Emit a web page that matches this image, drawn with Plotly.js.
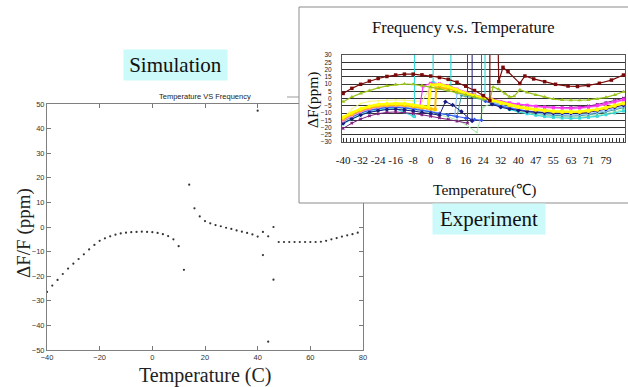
<!DOCTYPE html>
<html><head><meta charset="utf-8">
<script src="https://cdn.plot.ly/plotly-3.0.1.min.js"></script>
<style>html,body{margin:0;padding:0;background:#fff;}#chart{width:628px;height:387px;}</style>
</head><body><div id="chart"></div>
<script>
const W = 628, H = 387;

// ---------- Simulation (left) ----------
const simTemp = [-40,-38,-36,-34,-32,-30,-28,-26,-24,-22,-20,-18,-16,-14,-12,-10,-8,-6,-4,-2,0,2,4,6,8,10,12,14,16,18,20,22,24,26,28,30,32,34,36,38,40,42,44,46,48,50,52,54,56,58,60,62,64,66,68,70,72,74,76,78];
const simDev  = [-26.4,-23.8,-21.5,-19.1,-16.9,-14.9,-13.0,-11.1,-9.1,-7.3,-5.6,-4.6,-3.8,-3.1,-2.6,-2.3,-2.1,-2.0,-1.9,-2.0,-2.1,-2.4,-2.9,-3.7,-5.0,-7.8,-17.4,17.2,7.6,4.3,2.4,1.5,0.8,0.3,-0.3,-0.8,-1.4,-1.9,-2.4,-3.0,-3.9,-2.0,-3.8,0.0,-6.1,-6.1,-6.1,-6.1,-6.1,-6.1,-6.1,-6.1,-6.0,-5.6,-5.0,-4.5,-3.9,-3.4,-2.9,-2.3];
const simOutTemp = [40,42,44,46];
const simOutDev  = [47.3,-11.4,-46.6,-21.4];
const simXTicks = [-40,-20,0,20,40,60,80];
const simYTicks = [-50,-40,-30,-20,-10,0,10,20,30,40,50];

// ---------- Experiment (inset) ----------
const expTickVals = [-40,-32,-24,-16,-8,0,8,16,24,32,40,48,56,64,72,80];
const expTickText = ['-40','-32','-24','-16','-8','0','8','16','24','32','40','47','55','63','71','79'];

const maroonX = [-40,-36,-32,-28,-24,-20,-16,-12,-8,-4,0,4,8,12,16,20,24,27,27.05,31,31.05,33,35.3,40.7,43,47,52,57,62.7,67,72,77,82.5,88];
const maroonY = [3.5,7,9.8,12,13.8,15.2,16.2,16.8,16.8,16.3,15.5,14.5,13.2,11.2,8.5,5.5,2,-1.5,400,400,11.6,21.5,18.5,10.4,15.5,13.5,11.6,9.8,8.6,8.3,9,10.5,12.7,16.2];

const oliveX = [-40,-36,-32,-28,-24,-20,-16,-12,-8,-4,0,4,8,12,16,20,24,27,28.5,31,34,36,38,40.7,44,48,52,56,60,64,68,72,76,80,84,88];
const oliveY = [-2.2,1,3.5,5.6,7.3,8.7,9.6,10,9.8,9,7.8,6.7,5.5,4.2,2.6,1,-0.5,-1,8,6.3,3.5,1.2,1.5,6,4.2,2.5,1,-0.4,-1,-1.2,-1.2,-1,-0.3,0.8,2.5,4.7];

const magX = [-40,-36,-32,-28,-24,-20,-16,-12,-8,-5,-3.5,0,4,8,12,16,20,24,28,32,36,40,44,48,52,56,60,64,68,72,76,80,84,88];
const magY = [-14.5,-11,-8.5,-6.6,-5.3,-4.6,-4.3,-4.5,-5.2,-5.8,8.5,10.5,10.3,9,6.5,4.3,2.6,1,-0.5,-2,-3,-3.8,-4.6,-5.3,-5.8,-6.2,-6.5,-6.7,-6.5,-5.9,-4.9,-3.6,-2.2,-0.8];

const pinkX = [-40,-36,-32,-28,-24,-20,-16,-12,-8,-4,-1.5,-0.5,4,8,12,16,20,24,28,32,36,40,44,48,52,56,60,64,68,72,76,80,84,88];
const pinkY = [-15.5,-12,-9.3,-7.3,-6,-5.2,-5,-5.2,-5.8,-6.6,-7,9.8,10,8.7,6.2,4,2.3,0.7,-1,-2.5,-3.6,-4.4,-5.2,-5.8,-6.3,-6.7,-7,-7.1,-6.9,-6.3,-5.4,-4.2,-2.8,-1.3];

const yelX = [-40,-36,-32,-28,-24,-20,-16,-12,-8,-4,-1,0,4,8,12,16,20,24,28,32,36,40,44,48,52,56,60,64,68,72,76,80,84,88];
const yelY = [-13,-9.8,-7.2,-5.3,-4.2,-3.6,-3.4,-3.7,-4.4,-5.3,-5.9,9.3,9.8,8.3,6,3.7,2,0.5,-1.3,-3,-4.5,-5.7,-6.7,-7.6,-8.3,-8.8,-9.1,-9.2,-9,-8.4,-7.5,-6.3,-4.9,-3.3];

const goldX = [-40,-36,-32,-28,-24,-20,-16,-12,-8,-4,0,2,2.5,4,8,12,16,20,24,28,32,36,40,44,48,52,56,60,64,68,72,76,80,84,88];
const goldY = [-14,-10.8,-8.2,-6.3,-5.1,-4.5,-4.3,-4.6,-5.4,-6.3,-7.2,-7.6,7.2,7.5,6.8,5,3.1,1.6,0.1,-1.5,-3.2,-4.8,-6,-7,-7.8,-8.5,-9,-9.3,-9.5,-9.3,-8.7,-7.8,-6.6,-5.1,-3.5];

const paleX = [-40,-36,-32,-28,-24,-20,-16,-12,-8,-4,0,4,8,12,16,20,24,28];
const paleY = [-13.5,-7,-3.5,-2,-1.5,-1.2,-1,-1.2,-1.5,-2,8,8.5,7.5,5.5,3.5,2,0.5,-1];

const lbX = [-40,-36,-32,-28,-24,-20,-16,-12,-8,-4,0,4,8,11,12,16,20,24,28,32,36,40,44,48,52,56,60,64,68,72,76,80,84,88];
const lbY = [-16,-12.8,-10.2,-8.3,-7,-6.3,-6.1,-6.4,-7.1,-8,-9,-10,-11.2,-12,3.5,2.5,1.2,-0.2,-2.5,-4.6,-6.3,-7.7,-8.8,-9.7,-10.4,-10.9,-11.2,-11.3,-11.1,-10.5,-9.6,-8.4,-7,-5.5];

const blueX = [-40,-36,-32,-28,-24,-20,-16,-12,-8,-4,0,4,8,12,16,20,23.2,23.25,24,25,28,32,36,40,44,48,52,56,60,64,68,72,76,80,84,88];
const blueY = [-15.5,-12.5,-10,-8.1,-6.9,-6.2,-6,-6.4,-7.2,-8.2,-9.3,-10.4,-11.5,-12.6,-13.6,-14.5,-15,400,null,-2,-3.5,-5.2,-6.6,-7.8,-8.6,-9.2,-9.6,-9.9,-10,-10,-9.7,-9.1,-8.2,-7,-5.6,-4];

const navX = [-40,-36,-32,-28,-24,-20,-16,-12,-8,-4,0,4,6.7,10,14,18.9,18.95,20,28,32,36,40,44,48,52,56,60,64,68,72,76,80,84,88];
const navY = [-17,-14,-11.4,-9.5,-8.3,-7.6,-7.4,-7.8,-8.6,-9.6,-10.6,-11.5,-2.2,-4.5,-9,-15.5,400,null,-4,-6,-7.3,-8.3,-9,-9.5,-9.9,-10.1,-10.2,-10.2,-10,-9.4,-8.5,-7.4,-6,-4.6];

const purX = [-40,-36,-32,-28,-24,-20,-16,-12,-8,-4,0,4,8,12,16.8,16.85,18,27.5,28,32,36,40,44,48,52,56,60,64,68,72,76,80,84,88];
const purY = [-20.6,-17,-14.2,-12,-10.5,-9.6,-9.3,-9.6,-10.3,-11.2,-12.2,-13.3,-14.4,-15.6,-17,400,null,-0.5,-1,-2.4,-3.4,-4.2,-4.9,-5.5,-5.9,-6.2,-6.3,-6.2,-5.9,-5.2,-4.1,-2.9,-1.4,0.2];

const cyanX = [-40,-36,-32,-28,-24,-20,-16,-12,-8,-7.4,-7.35,0,1.05,1.1,4,8,9.2,9.25,20,24.75,24.8,28,32,36,40,44,48,52,56,60,64,68,72,76,80,84,88];
const cyanY = [-17.5,-14,-11.3,-9.3,-8,-7.2,-7,-9.5,-12,-12.5,400,null,400,11,10,8.3,8,400,null,400,-1.5,-3.8,-5.7,-7.6,-9.2,-10.5,-11.6,-12.5,-13.1,-13.5,-13.7,-13.6,-13.1,-12.3,-11.2,-10,-8.6];

const lgX = [-40,-36,-32,-28,-24,-20,-16,-12,-8,-4,0,4,8,12,16,21,24,28,32,36,40,44,48,52,56,60,64,68,72,76,80,84,88];
const lgY = [-16.5,-13.3,-10.7,-8.8,-7.5,-6.8,-6.6,-7,-7.8,-8.8,-10,-11.3,-12.8,-14.8,-18,-23.5,-6,-3.2,-5,-7,-8.7,-10,-11,-11.8,-12.4,-12.8,-13,-12.9,-12.4,-11.6,-10.5,-9.2,-7.7];

const tealX = [-40,-36,-32,-28,-24,-20,-16,-12,-8,-4,0,4,8,12,14,16,20,24,28,32,36,40,44,48,52,56,60,64,68,72,76,80,84,88];
const tealY = [-15,-12,-9.5,-7.7,-6.5,-5.8,-5.6,-6,-6.8,-7.8,-8.9,-10,-11.3,-12.5,2,1.5,0.5,-0.8,-2.5,-4.4,-6.2,-7.8,-9.1,-10.2,-11,-11.6,-12,-12.1,-11.9,-11.3,-10.4,-9.2,-7.8,-6.3];

function expTrace(x, y, color, symbol, size, width) {
  return {x: x, y: y, xaxis: 'x3', yaxis: 'y3', type: 'scatter', mode: 'lines+markers',
    line: {color: color, width: width}, marker: {color: color, symbol: symbol, size: size},
    hoverinfo: 'skip', showlegend: false};
}

const traces = [
  {x: simTemp, y: simDev, type: 'scatter', mode: 'markers', marker: {color: '#333', size: 2.2}, hoverinfo: 'skip', showlegend: false},
  {x: simOutTemp, y: simOutDev, type: 'scatter', mode: 'markers', marker: {color: '#333', size: 2.2}, hoverinfo: 'skip', showlegend: false},
  {x: [0.5], y: [0.5], xaxis: 'x2', yaxis: 'y2', type: 'scatter', mode: 'markers', marker: {opacity: 0}, hoverinfo: 'skip', showlegend: false},
  expTrace(paleX, paleY, '#f5f57a', 'circle', 2, 1),
  expTrace(lgX, lgY, '#a8ecaa', 'triangle-up', 3, 1),
  expTrace(cyanX, cyanY, '#38d8d8', 'square', 3, 1.2),
  expTrace(tealX, tealY, '#3a9a9a', 'circle', 2.5, 1),
  expTrace(lbX, lbY, '#8cc4ff', 'circle', 3, 1.2),
  expTrace(blueX, blueY, '#3355ee', 'diamond', 3, 1),
  expTrace(navX, navY, '#1a1a80', 'diamond', 3.5, 1),
  expTrace(purX, purY, '#802080', 'x', 3, 1),
  expTrace(pinkX, pinkY, '#ff99cc', 'circle', 3, 1.2),
  expTrace(magX, magY, '#ff33ff', 'square', 3, 1.2),
  expTrace(goldX, goldY, '#ffc000', 'square', 3.5, 2),
  expTrace(yelX, yelY, '#ffff00', 'diamond', 3.5, 2.5),
  expTrace(oliveX, oliveY, '#9ac31c', 'triangle-up', 4, 1.2),
  expTrace(maroonX, maroonY, '#7a0a0a', 'square', 3.5, 1.2)
];

const serif = 'Liberation Serif, Times New Roman, serif';
const sans = 'Liberation Sans, Arial, sans-serif';

function note(text, px, py, font, extra) {
  return Object.assign({text: text, xref: 'paper', yref: 'paper', x: px / W, y: 1 - py / H,
    xanchor: 'center', yanchor: 'middle', showarrow: false, font: font}, extra || {});
}

const layout = {
  width: W, height: H, margin: {l: 0, r: 0, t: 0, b: 0},
  paper_bgcolor: '#ffffff', plot_bgcolor: '#ffffff', showlegend: false, hovermode: false,
  xaxis: {domain: [47/W, 363/W], range: [-40, 80], tickmode: 'array', tickvals: simXTicks,
    ticks: 'inside', ticklen: 4, tickcolor: '#777', showline: true, linecolor: '#808080', linewidth: 1,
    mirror: 'ticks', showgrid: false, zeroline: false, anchor: 'y',
    tickfont: {family: sans, size: 7.5, color: '#333'}},
  yaxis: {domain: [1-350/H, 1-104/H], range: [-50, 50], tickmode: 'array', tickvals: simYTicks,
    ticks: 'inside', ticklen: 4, tickcolor: '#777', showline: true, linecolor: '#808080', linewidth: 1,
    mirror: 'ticks', showgrid: false, zeroline: false, anchor: 'x',
    tickfont: {family: sans, size: 7.5, color: '#333'}},
  xaxis2: {domain: [299/W, 1], range: [0, 1], visible: false, anchor: 'y2'},
  yaxis2: {domain: [1-203/H, 1-7/H], range: [0, 1], visible: false, anchor: 'x2'},
  xaxis3: {domain: [342/W, 625/W], range: [-40.5, 88.7], tickmode: 'array', tickvals: expTickVals, ticktext: expTickText,
    ticks: 'inside', ticklen: 4, tickcolor: '#333', showline: true, linecolor: '#555', mirror: true,
    showgrid: false, zeroline: false, anchor: 'y3', ticklabelstandoff: 8,
    minor: {ticks: 'inside', ticklen: 4, tickcolor: '#333', tickmode: 'linear', tick0: -40, dtick: 1.6, showgrid: false},
    tickfont: {family: serif, size: 11, color: '#111'}},
  yaxis3: {domain: [1-142/H, 1-55/H], range: [-30, 30], tickmode: 'linear', tick0: -30, dtick: 5,
    ticks: '', showline: true, linecolor: '#555', mirror: true, showgrid: true, gridcolor: '#333', gridwidth: 1,
    zeroline: false, anchor: 'x3', ticklabelstandoff: 8,
    tickfont: {family: sans, size: 6.5, color: '#222'}},
  shapes: [
    {type: 'rect', xref: 'paper', yref: 'paper', x0: 299/W, x1: 1.02, y0: 1-203/H, y1: 1-7/H,
      line: {color: '#8c8c8c', width: 1}, fillcolor: 'rgba(0,0,0,0)', layer: 'above'},
    {type: 'line', xref: 'paper', yref: 'paper', x0: 287/W, x1: 299/W, y0: 1-97/H, y1: 1-97/H,
      line: {color: '#9a9a9a', width: 1}}
  ],
  annotations: [
    note('Simulation', 175.5, 65, {family: serif, size: 21, color: '#111'}, {bgcolor: '#ccf9fa', width: 103, height: 30, borderpad: 0}),
    note('Experiment', 489, 219, {family: serif, size: 21, color: '#111'}, {bgcolor: '#ccf9fa', width: 112, height: 30, borderpad: 0}),
    note('Temperature VS Frequency', 205, 96, {family: sans, size: 7.5, color: '#222'}),
    note('ΔF/F (ppm)', 24, 233, {family: serif, size: 19, color: '#222'}, {textangle: -90}),
    note('Temperature (C)', 205, 375, {family: serif, size: 20, color: '#222'}),
    note('Frequency v.s. Temperature', 464, 27, {family: serif, size: 16.5, color: '#111'}),
    note('ΔF(ppm)', 313, 100, {family: serif, size: 15.5, color: '#111'}, {textangle: -90}),
    note('Temperature(℃)', 484, 190, {family: serif, size: 15.5, color: '#111'})
  ]
};

Plotly.newPlot('chart', traces, layout, {staticPlot: true, displayModeBar: false});
</script>
</body></html>
